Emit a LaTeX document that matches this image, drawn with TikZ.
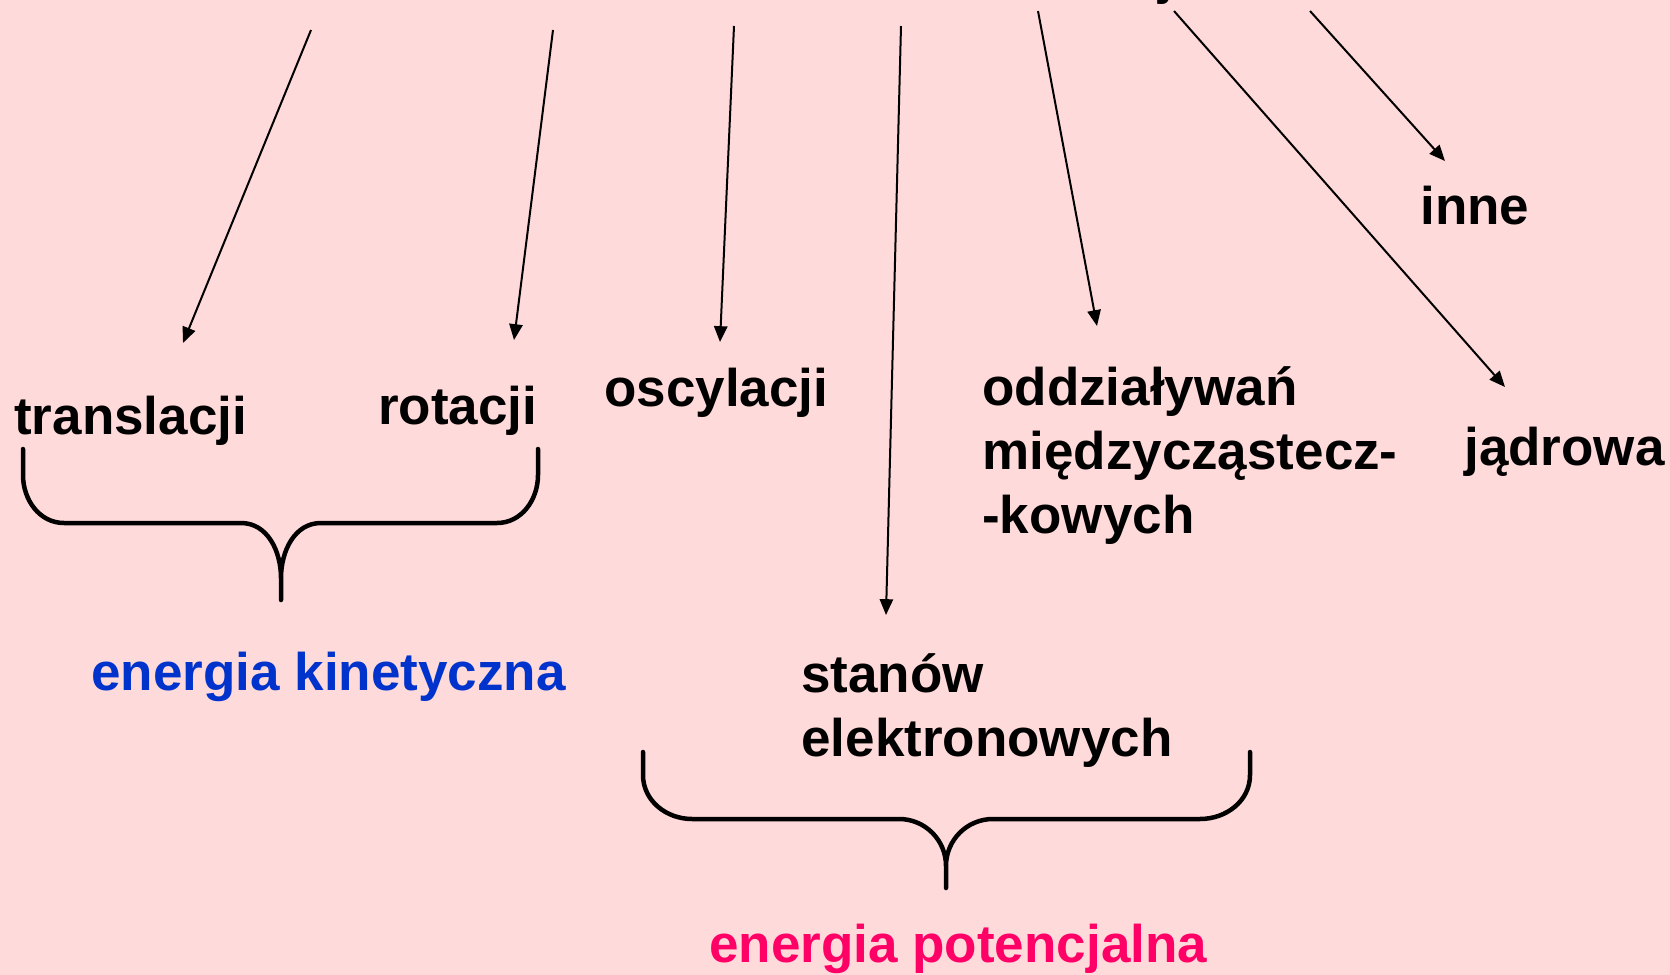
\documentclass[tikz,border=0pt]{standalone}
\usepackage{fontspec}
\setmainfont{Liberation Sans}
\usetikzlibrary{arrows.meta,positioning}
\usepackage{xcolor}
\definecolor{bgpink}{HTML}{FFDADA}
\definecolor{kblue}{HTML}{0033CC}
\definecolor{ppink}{HTML}{FF0066}
\tikzstyle{l1}=[line width=2.7pt, line cap=round, line join=round]
\tikzstyle{arr}=[line width=1.2pt, -{Triangle[length=9.5pt,width=8pt]}]
\tikzstyle{lab}=[anchor=base west, inner sep=0pt, align=left, font=\fontsize{31.8}{38.4}\selectfont\bfseries]
\tikzstyle{kin}=[lab, text=kblue]
\tikzstyle{pot}=[lab, text=ppink]

\begin{document}
\begin{tikzpicture}[x=0.6pt, y=-0.6pt]
    \useasboundingbox[fill=bgpink] (0,0) rectangle (1670,975);

    % cut-off heading
    \node (head) [lab] at (1158,-7) {j};

    \node (trans) [lab] at (14,434) {translacji};
    \node (rot) [lab] at (378,424) {rotacji};
    \node (osc) [lab] at (604,406) {oscylacji};
    % base of a multi-line node = its last line
    \node (odd) [lab] at (982,533) {oddziaływań\\międzycząstecz-\\-kowych};
    \node (inne) [lab] at (1420,224) {inne};
    \node (jadr) [lab] at (1464,465) {jądrowa};
    \node (elek) [lab] at (801,756) {stanów\\elektronowych};
    \node (ekin) [kin] at (91,690) {energia kinetyczna};
    \node (epot) [pot] at (709,962) {energia potencjalna};

    \coordinate (s1) at (311,30);   \coordinate (e1) at (183,343);
    \coordinate (s2) at (553,30);   \coordinate (e2) at (514,340);
    \coordinate (s3) at (734,26);   \coordinate (e3) at (720,342);
    \coordinate (s4) at (901,26);   \coordinate (e4) at (886,615);
    \coordinate (s5) at (1038,11);  \coordinate (e5) at (1097,326);
    \coordinate (s6) at (1174,11);  \coordinate (e6) at (1505,387);
    \coordinate (s7) at (1310,11);  \coordinate (e7) at (1445,161);
    \foreach \i in {1,...,7}
        \draw[arr] (s\i) -- (e\i);

    % braces
    \draw[l1] (23,449) -- (23,475) to[out=-90,in=180] (64,523) -- (241,523)
        to[out=0,in=90] (281,578) -- (281,600) -- (281,578)
        to[out=90,in=180] (321,523) -- (497,523) to[out=0,in=-90] (538,475) -- (538,449);
    \draw[l1] (643,752) -- (643,775) to[out=-90,in=180] (692,819) -- (899,819)
        to[out=0,in=90] (946,866) -- (946,888) -- (946,866)
        to[out=90,in=180] (993,819) -- (1200,819) to[out=0,in=-90] (1250,775) -- (1250,752);

\end{tikzpicture}
\end{document}
